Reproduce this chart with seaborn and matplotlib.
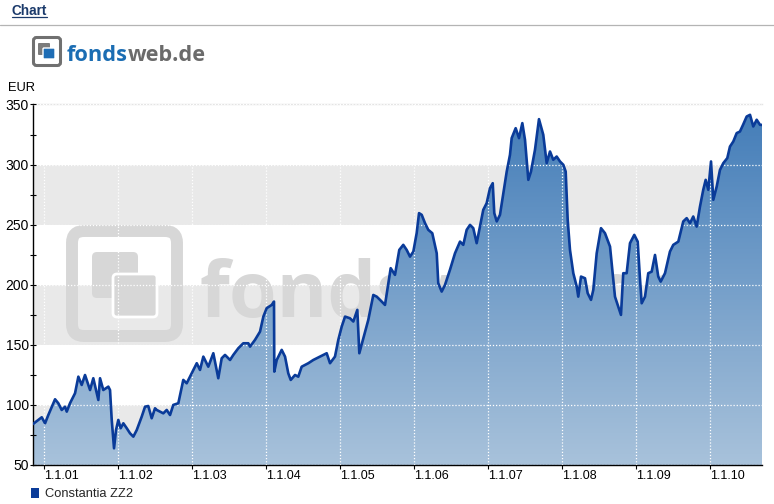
import matplotlib
matplotlib.use("Agg")
import numpy as np
import pandas as pd
import seaborn as sns
import matplotlib.pyplot as plt
from matplotlib.patches import FancyBboxPatch, Patch
from matplotlib.transforms import Affine2D
from matplotlib.lines import Line2D
from matplotlib.colors import LinearSegmentedColormap
import matplotlib.dates as mdates

# ---------------- data ----------------
series_name = "Constantia ZZ2"
year_pos = [
    2000.851, 2000.969, 2001.014, 2001.058, 2001.149, 2001.193, 2001.239, 2001.284, 2001.307, 2001.351,
    2001.419, 2001.464, 2001.509, 2001.554, 2001.622, 2001.666, 2001.734, 2001.757, 2001.801, 2001.869,
    2001.892, 2001.915, 2001.946, 2001.973, 2002.004, 2002.036, 2002.072, 2002.118, 2002.162, 2002.207,
    2002.253, 2002.320, 2002.365, 2002.409, 2002.455, 2002.500, 2002.523, 2002.612, 2002.658, 2002.703,
    2002.747, 2002.815, 2002.882, 2002.928, 2002.973, 2003.064, 2003.108, 2003.153, 2003.220, 2003.288,
    2003.355, 2003.401, 2003.446, 2003.514, 2003.558, 2003.626, 2003.693, 2003.761, 2003.784, 2003.851,
    2003.919, 2003.964, 2004.009, 2004.077, 2004.108, 2004.112, 2004.145, 2004.212, 2004.257, 2004.301,
    2004.334, 2004.392, 2004.436, 2004.482, 2004.572, 2004.639, 2004.730, 2004.820, 2004.865, 2004.932,
    2004.977, 2005.023, 2005.068, 2005.135, 2005.180, 2005.234, 2005.261, 2005.315, 2005.382, 2005.450,
    2005.496, 2005.541, 2005.608, 2005.653, 2005.685, 2005.743, 2005.801, 2005.855, 2005.901, 2005.946,
    2005.991, 2006.036, 2006.068, 2006.104, 2006.149, 2006.193, 2006.247, 2006.307, 2006.328, 2006.374,
    2006.419, 2006.486, 2006.554, 2006.622, 2006.666, 2006.712, 2006.757, 2006.801, 2006.847, 2006.892,
    2006.936, 2006.982, 2007.027, 2007.064, 2007.085, 2007.118, 2007.162, 2007.207, 2007.253, 2007.297,
    2007.320, 2007.374, 2007.419, 2007.464, 2007.500, 2007.545, 2007.581, 2007.635, 2007.689, 2007.747,
    2007.793, 2007.838, 2007.882, 2007.928, 2007.973, 2008.018, 2008.050, 2008.077, 2008.108, 2008.153,
    2008.199, 2008.220, 2008.257, 2008.311, 2008.347, 2008.392, 2008.423, 2008.469, 2008.527, 2008.581,
    2008.649, 2008.693, 2008.716, 2008.761, 2008.797, 2008.828, 2008.874, 2008.919, 2008.977, 2009.023,
    2009.054, 2009.077, 2009.122, 2009.166, 2009.212, 2009.257, 2009.301, 2009.334, 2009.392, 2009.459,
    2009.504, 2009.572, 2009.639, 2009.685, 2009.730, 2009.774, 2009.820, 2009.865, 2009.909, 2009.942,
    2009.977, 2010.014, 2010.045, 2010.091, 2010.135, 2010.180, 2010.234, 2010.270, 2010.315, 2010.361,
    2010.405, 2010.447, 2010.496, 2010.541, 2010.585, 2010.631, 2010.676, 2010.703,
]
values = [
    84.1, 89.7, 84.7, 91.6, 104.7, 101.4, 95.8, 98.5, 94.4, 101.4,
    109.7, 123.5, 116.6, 124.9, 112.4, 122.2, 104.1, 122.2, 112.4, 115.2,
    112.4, 87.5, 63.9, 79.1, 87.5, 80.6, 84.7, 80.6, 76.4, 73.6,
    79.1, 90.2, 98.5, 99.1, 88.9, 97.2, 95.8, 93.0, 95.8, 91.6,
    100.0, 101.4, 120.8, 118.0, 123.5, 134.7, 129.1, 140.2, 131.8, 143.0,
    122.2, 138.8, 141.6, 137.4, 141.6, 147.2, 151.3, 151.3, 148.5, 154.1,
    161.0, 173.5, 180.5, 183.2, 186.0, 127.7, 137.4, 145.8, 140.2, 126.3,
    120.8, 124.9, 123.5, 131.8, 134.7, 137.4, 140.2, 143.0, 134.7, 140.2,
    154.1, 165.2, 173.5, 172.1, 169.4, 179.1, 143.0, 155.5, 170.7, 191.5,
    190.1, 187.4, 183.2, 201.3, 213.8, 208.2, 229.0, 233.2, 229.0, 223.4,
    227.6, 242.9, 259.6, 258.2, 251.2, 245.7, 242.9, 226.2, 201.3, 194.3,
    199.9, 212.4, 226.2, 235.9, 233.2, 245.7, 249.8, 247.1, 234.6, 248.4,
    262.3, 267.9, 280.4, 284.5, 259.6, 252.7, 258.2, 276.2, 294.2, 308.1,
    322.0, 330.3, 322.0, 334.5, 320.6, 287.3, 294.2, 312.3, 337.8, 324.8,
    301.2, 310.9, 304.0, 306.7, 302.6, 299.8, 294.2, 254.0, 229.0, 209.6,
    198.5, 190.1, 206.8, 205.4, 193.0, 187.4, 195.7, 226.2, 247.1, 242.9,
    231.8, 204.0, 190.1, 181.8, 174.9, 209.6, 209.6, 234.6, 241.5, 235.9,
    205.0, 184.6, 190.1, 209.6, 210.9, 224.8, 206.8, 202.6, 209.6, 227.6,
    233.2, 235.9, 252.7, 255.4, 251.2, 256.8, 248.4, 265.1, 279.0, 287.3,
    279.0, 302.6, 270.7, 281.8, 295.6, 301.2, 305.4, 315.0, 319.2, 326.2,
    327.5, 333.1, 340.0, 341.4, 331.7, 337.3, 333.1, 333.0,
]
tick_dates = ["2001-01-01", "2002-01-01", "2003-01-01", "2004-01-01", "2005-01-01",
              "2006-01-01", "2007-01-01", "2008-01-01", "2009-01-01", "2010-01-01"]
tick_labels = ["1.1.01", "1.1.02", "1.1.03", "1.1.04", "1.1.05",
               "1.1.06", "1.1.07", "1.1.08", "1.1.09", "1.1.10"]
y_major = [50, 100, 150, 200, 250, 300, 350]
y_minor = [75, 125, 175, 225, 275, 325]
bands = [(50, 100), (150, 200), (250, 300)]

# ---------------- style ----------------
sns.set_theme(style="white")
plt.rcParams["font.family"] = ["Liberation Sans", "DejaVu Sans"]

W, H = 774, 504
fig = plt.figure(figsize=(W / 100, H / 100), dpi=100)
PX = Affine2D().scale(1, -1).translate(0, H).scale(1 / W, 1 / H) + fig.transFigure

ax = fig.add_axes([33 / W, (H - 465) / H, (762 - 33) / W, (465 - 104.5) / H])

base = pd.Timestamp("2001-01-01")
dates = base + pd.to_timedelta((np.array(year_pos) - 2001) * 365.25, unit="D")
df = pd.DataFrame({"date": dates, "value": values})

# background bands
for lo, hi in bands:
    ax.axhspan(lo, hi, color="#e9e9e9", zorder=0, lw=0)

# watermark
wm = "#d7d7d7"
def rbox(x0, y0, x1, y1, r, **kw):
    return FancyBboxPatch((x0, y0), x1 - x0, y1 - y0,
                          boxstyle=f"round,pad=0,rounding_size={r}",
                          transform=PX, clip_on=False, **kw)

for p in [rbox(72, 231, 177, 336, 12, fill=False, edgecolor=wm, lw=8.6),
          rbox(92, 252, 138, 298, 5, facecolor=wm, edgecolor="none"),
          rbox(113, 274, 157, 317, 4, facecolor=wm, edgecolor="white", lw=2.0)]:
    p.set_zorder(1)
    ax.add_patch(p)

renderer = fig.canvas.get_renderer()
wm_font = dict(fontweight="bold", family=["Open Sans", "DejaVu Sans"])
probe = fig.text(0, 0, "fond", fontsize=66, **wm_font)
w_fond = probe.get_window_extent(renderer).width
probe.remove()
wt = ax.text(200 / W, 1 - 317 / H, "fondsweb.de", transform=fig.transFigure,
             fontsize=66 * 177 / w_fond, color=wm, ha="left", va="baseline",
             zorder=1, **wm_font)

# gradient area fill
cmap = LinearSegmentedColormap.from_list("blues", ["#a8c2db", "#427cb8"])
x0n = mdates.date2num(dates[0])
x1n = mdates.date2num(dates[-1])
grad = np.linspace(0, 1, 256).reshape(-1, 1)
im = ax.imshow(grad, cmap=cmap, extent=[x0n, x1n, 50, 350], origin="lower",
               aspect="auto", zorder=2, interpolation="bilinear")
poly = ax.fill_between(df["date"], df["value"], 50, facecolor="none",
                       edgecolor="none", zorder=2)
im.set_clip_path(poly.get_paths()[0], transform=ax.transData)

sns.lineplot(data=df, x="date", y="value", ax=ax, color="#0a3b99",
             linewidth=1.9, zorder=4, legend=False)

ax.set_xlim(dates[0], dates[-1])
ax.set_ylim(50, 350)
ax.set_xlabel("")
ax.set_ylabel("")

ax.set_xticks(pd.to_datetime(tick_dates))
ax.set_xticklabels(tick_labels, ha="left")
ax.set_yticks(y_major)
ax.set_yticks(y_minor, minor=True)
ax.grid(True, which="major", color="white", linestyle=(0, (1, 1.5)), linewidth=0.9)
ax.set_axisbelow(False)

ax.tick_params(axis="x", which="major", bottom=True, direction="out", length=3,
               width=0.8, pad=0.5, labelsize=9, colors="black")
ax.tick_params(axis="y", which="major", left=True, direction="inout", length=5,
               width=0.8, pad=0.5, labelsize=10, colors="black")
ax.tick_params(axis="y", which="minor", left=True, direction="inout", length=4,
               width=0.8, colors="black")

for s in ["left", "bottom"]:
    ax.spines[s].set_color("black")
    ax.spines[s].set_linewidth(1)
ax.spines["right"].set_visible(False)
ax.spines["top"].set_color("#e4e4e4")
ax.spines["top"].set_linewidth(1)

# ---------------- header ----------------
ct = fig.text(12 / W, 1 - 15 / H, "Chart", fontsize=9.8, fontweight="bold",
              color="#1b3a6b", ha="left", va="baseline")
ce = ct.get_window_extent(renderer)
fig.add_artist(Line2D([ce.x0, ce.x1], [17, 17], transform=PX, color="#1b3a6b", lw=0.9))
fig.add_artist(Line2D([0, W], [24.5, 24.5], transform=PX, color="#b4b4b4", lw=0.9))

# top logo
for p in [rbox(33.5, 37.5, 60.5, 65.5, 3, fill=False, edgecolor="#707070", lw=2.2),
          rbox(38, 43, 50, 55, 1, facecolor="#7b7b7b", edgecolor="none"),
          rbox(43, 48, 55, 59, 1, facecolor="#1e6db5", edgecolor="white", lw=1.0)]:
    fig.add_artist(p)

t1 = fig.text(67 / W, 1 - 61 / H, "fonds", fontsize=17, fontweight="bold",
              color="#1b6db3", family=["Open Sans", "DejaVu Sans"], ha="left", va="baseline")
t2 = fig.text(0, 1 - 61 / H, "web.de", fontsize=17, fontweight="bold",
              color="#6b6b6b", family=["Open Sans", "DejaVu Sans"], ha="left", va="baseline")
wsum = t1.get_window_extent(renderer).width + t2.get_window_extent(renderer).width
fs = 17 * 139 / wsum
t1.set_fontsize(fs)
t2.set_fontsize(fs)
e1 = t1.get_window_extent(renderer)
t2.set_position((e1.x1 / W, 1 - 61 / H))

fig.text(8 / W, 1 - 91 / H, "EUR", fontsize=9.3, color="black", ha="left", va="baseline")

# legend
fig.legend(handles=[Patch(facecolor="#0a3b99", edgecolor="none")], labels=[series_name],
           loc="center left", bbox_to_anchor=(31 / W, 1 - 494 / H), frameon=False,
           fontsize=9.3, handlelength=0.6, handleheight=0.8, handletextpad=0.45,
           borderpad=0, borderaxespad=0)

fig.savefig("out.png", dpi=100)
